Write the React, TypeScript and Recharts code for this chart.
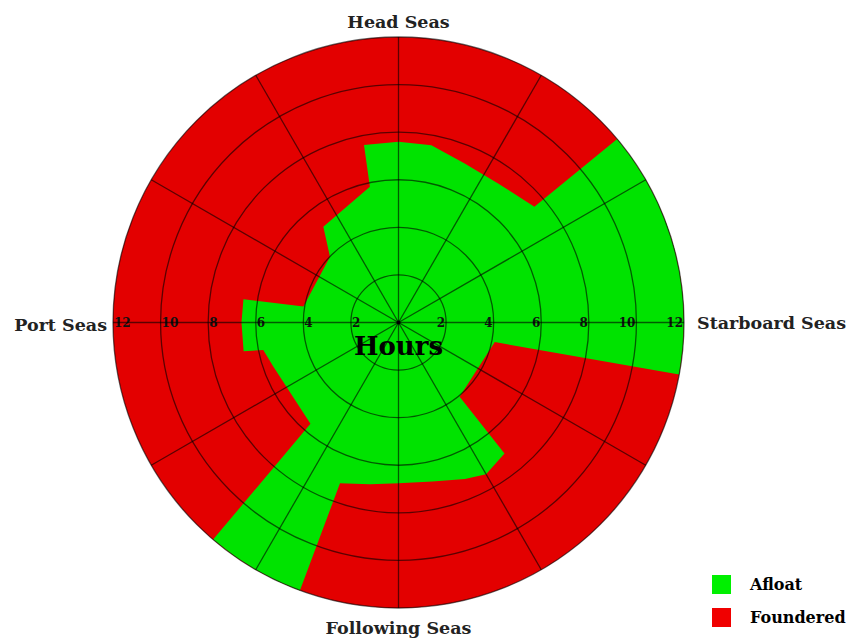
import React from 'react'
import {
  RadarChart, Radar, PolarGrid, PolarAngleAxis, PolarRadiusAxis,
  PieChart, Pie, Legend,
} from 'recharts'

// sea direction, degrees clockwise from head seas, and hours the model stayed afloat
const bearings = [
  0, 10.5, 22.6, 35.6, 49.6,
  50, 55, 60, 65, 70, 75, 80, 85, 90, 95, 100.5,
  101.5, 140.5, 141, 150, 157, 168, 180, 190, 200,
  200.2, 205, 210, 215, 220.5,
  221, 250.6, 258.5, 259.5, 270, 278.5, 279.5, 313.8, 321.9, 348.1, 349,
]
const hoursAfloat = [
  7.6, 7.58, 7.24, 7.19, 7.5,
  12, 12, 12, 12, 12, 12, 12, 12, 12, 12, 12,
  4.13, 4.04, 7.08, 7.36, 7.15, 6.83, 6.76, 6.9, 7.19,
  12, 12, 12, 12, 12,
  5.64, 5.58, 5.8, 6.62, 6.6, 6.59, 4.05, 3.99, 5.12, 5.83, 7.6,
]
const maxHours = 12
const headingBearings = [0, 90, 180, 270]
const headingLabels = ['Head Seas', 'Starboard Seas', 'Following Seas', 'Port Seas']
const spokeAngles = [0, 30, 60, 90, 120, 150, 180, 210, 240, 270, 300, 330]
const legendNames = ['Afloat', 'Foundered']

const GREEN = '#00e300'
const RED = '#e30000'
const legendColors = ['#00f000', '#f00000']

const CX = 398.5
const CY = 322.5
const R = 285.5

const data = bearings.map((b, i) => ({ bearing: b, afloat: hoursAfloat[i] }))
const disc = [{ name: 'Foundered', value: maxHours }]

const serif = '"DejaVu Serif", serif'

// offsets for the four heading labels (top, right, bottom, left)
const headingPos = [
  { dx: 0, dy: -1, anchor: 'middle' },
  { dx: 5, dy: 6, anchor: 'start' },
  { dx: 0, dy: 18, anchor: 'middle' },
  { dx: 2, dy: 8, anchor: 'end' },
]

const HeadingTick = (p: any) => {
  const i = headingBearings.indexOf(p.payload.value)
  if (i < 0 || p.index === 4) return <g />
  const pos = headingPos[i]
  return (
    <text x={p.x + pos.dx} y={p.y + pos.dy} textAnchor={pos.anchor}
      fontFamily={serif} fontWeight="bold" fontSize={17.5} fill="#222">
      {headingLabels[i]}
    </text>
  )
}

const tickFont = { fontFamily: serif, fontWeight: 'bold' as const, fontSize: 12, fill: '#111' }

// hour labels sit on the horizontal diameter, mirrored on the port side
const HourTick = (p: any) => {
  const v = p.payload.value
  if (v === 0) {
    return (
      <g>
        <circle cx={p.x} cy={p.y} r={2} fill="#111" />
        <text x={p.x} y={p.y + 32} textAnchor="middle" fontFamily={serif}
          fontWeight="bold" fontSize={26} fill="#000">Hours</text>
      </g>
    )
  }
  const mx = 2 * CX - p.x
  return (
    <g>
      <text x={p.x - 1} y={p.y + 4} textAnchor="end" {...tickFont}>{v}</text>
      <text x={mx + 1} y={p.y + 4} textAnchor="start" {...tickFont}>{v}</text>
    </g>
  )
}

const LegendBox = () => (
  <div style={{ fontFamily: serif, fontWeight: 'bold', fontSize: 16, color: '#000' }}>
    {legendNames.map((n, i) => (
      <div key={n} style={{ display: 'flex', alignItems: 'center', height: 32.5 }}>
        <span style={{ width: 19, height: 19, background: legendColors[i], marginRight: 19, display: 'inline-block' }} />
        <span>{n}</span>
      </div>
    ))}
  </div>
)

export default function App() {
  return (
    <div style={{ position: 'absolute', left: 0, top: 0, width: 851, height: 642, background: '#fff' }}>
      <div style={{ position: 'absolute', left: 0, top: 0 }}>
        <PieChart width={851} height={642} margin={{ top: 0, right: 0, bottom: 0, left: 0 }}>
          <Pie data={disc} dataKey="value" nameKey="name" cx={CX} cy={CY}
            innerRadius={0} outerRadius={R} startAngle={90} endAngle={-270}
            fill={RED} stroke="none" isAnimationActive={false} />
        </PieChart>
      </div>
      <div style={{ position: 'absolute', left: 0, top: 0 }}>
        <RadarChart width={851} height={642} data={data} cx={CX} cy={CY} outerRadius={R}
          margin={{ top: 0, right: 0, bottom: 0, left: 0 }}>
          <PolarAngleAxis dataKey="bearing" type="number" domain={[0, 360]} tickCount={5}
            axisLine={false} tickLine={false} tick={HeadingTick} />
          <PolarRadiusAxis angle={0} domain={[0, maxHours]} tickCount={7}
            axisLine={false} tickLine={false} tick={HourTick} />
          <Radar name="Afloat" dataKey="afloat" fill={GREEN} fillOpacity={1} stroke="none"
            dot={false} isAnimationActive={false} />
          <PolarGrid gridType="circle" polarAngles={spokeAngles} stroke="#000"
            strokeOpacity={0.6} strokeWidth={1.3} zIndex={600} />
          <Legend content={LegendBox} wrapperStyle={{ left: 712, top: 568.5, width: 140 }} />
        </RadarChart>
      </div>
    </div>
  )
}
